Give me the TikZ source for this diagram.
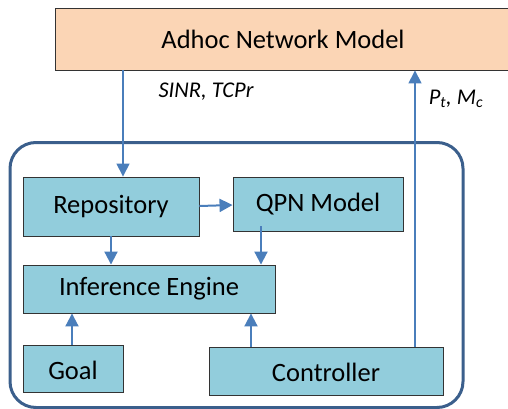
\documentclass[tikz,border=0pt]{standalone}
\usepackage{fontspec}
\setmainfont{Carlito}
\usetikzlibrary{arrows.meta}
\definecolor{boxfill}{HTML}{92CDDC}
\definecolor{topfill}{HTML}{FBD5B5}
\definecolor{arrcol}{HTML}{4A7EBB}
\definecolor{contcol}{HTML}{3B5F8C}
\tikzset{
  box/.style={draw=black!80, line width=0.9pt, fill=boxfill, inner sep=0pt, font=\fontsize{26.5}{30}\selectfont},
  arr/.style={draw=arrcol, line width=2pt, -{Triangle[length=13pt,width=13pt]}},
  longarr/.style={draw=arrcol, line width=1.5pt},
  lbl/.style={font=\fontsize{22.5}{26}\selectfont\itshape, inner sep=0pt}
}
\begin{document}
\begin{tikzpicture}[x=1pt,y=-1pt]
\useasboundingbox (0,0) rectangle (508,409);
\begin{scope}
\clip (0,0) rectangle (508,409);
\node[box, fill=topfill, minimum width=455pt, minimum height=62pt] (top) at (282.5,39) {};
\end{scope}
\node[font=\fontsize{26.5}{30}\selectfont] (toptext) at (283,39) {Adhoc Network Model};
\node[draw=contcol, line width=3pt, rounded corners=26pt, minimum width=453pt, minimum height=265pt, inner sep=0pt] (cont) at (236.5,275) {};
\node[box, minimum width=176pt, minimum height=59pt] (repo) at (111,206.5) {Repository};
\node[box, minimum width=170pt, minimum height=54pt] (qpn) at (318,204) {QPN Model};
\node[box, minimum width=252pt, minimum height=48pt] (inf) at (149,289) {Inference Engine};
\node[box, minimum width=100pt, minimum height=47pt, text height=22pt] (goal) at (73,368.5) {Goal};
\node[box, minimum width=234pt, minimum height=48pt, text height=22pt] (ctrl) at (326,371) {Controller};
\coordinate (xl) at (123,0);
\coordinate (xr) at (415,0);
\draw[longarr, -{Triangle[length=13pt,width=13pt]}] (top.south -| xl) -- (repo.north -| xl);
\draw[longarr, -{Triangle[length=13pt,width=13pt]}] (ctrl.north -| xr) -- (top.south -| xr);
\node[lbl] (l1) at (206,92) {SINR, TCPr};
\node[lbl] (l2) at (456,99) {P\textsubscript{t}, M\textsubscript{c}};
\draw[arr] (repo.east |- 0,206) -- (qpn.west |- 0,205);
\coordinate (a1) at (111,0);
\coordinate (a2) at (261,0);
\coordinate (a3) at (72,0);
\coordinate (a4) at (251,0);
\draw[arr] (repo.south -| a1) -- (inf.north -| a1);
\draw[arr] ([yshift=5pt]qpn.south -| a2) -- (inf.north -| a2);
\draw[arr] (goal.north -| a3) -- (inf.south -| a3);
\draw[arr] (ctrl.north -| a4) -- (inf.south -| a4);
\end{tikzpicture}
\end{document}
